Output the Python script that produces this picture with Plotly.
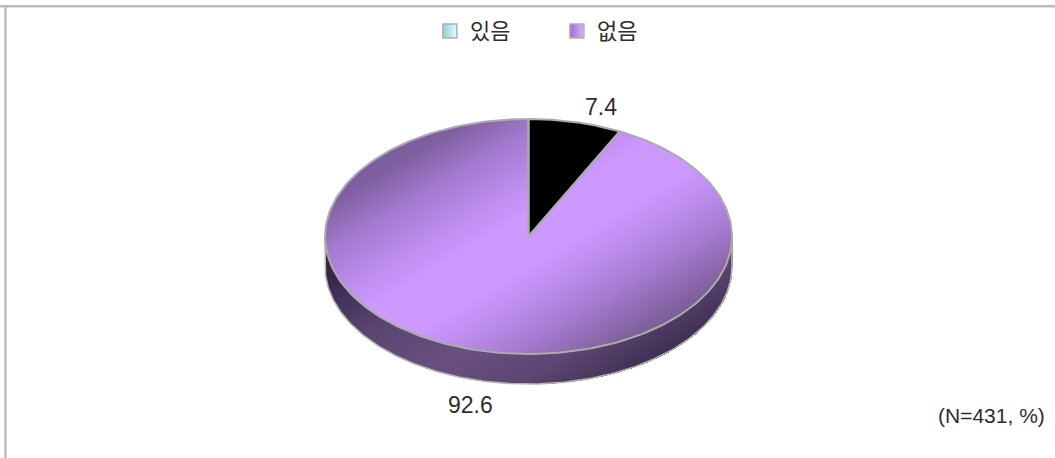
import numpy as np
import plotly.graph_objects as go

# ---- data ----
categories = ["있음", "없음"]
values = [7.4, 92.6]
note_text = "(N=431, %)"

# ---- geometry / style ----
W, H = 1055, 458
CX, CY, RX, RY, DEPTH = 528.5, 236.5, 203.5, 117.5, 30
RIM = "#ababab"
TEXT = "#2e2e2e"
FONT = "Liberation Sans, Arial, sans-serif"
FONT_KR = "Noto Sans CJK KR, sans-serif"
slice_fill = ["#000000", None]
swatch_colors = [("#8fd0d4", "#e8fbfb"), ("#9a6ed0", "#d8b4ff")]
top_stops = [(-175, "#725497"), (-130, "#80609f"), (-90, "#a47ad0"), (-45, "#c08ff0"), (-20, "#cc99ff"),
             (25, "#cc99ff"), (55, "#bc8cec"), (90, "#a67bd0"), (135, "#81619f"), (175, "#6f5290")]
wall_stops = [(-100, "#2b1f3a"), (-80, "#2f2340"), (-36, "#46355f"), (0, "#5a4570"),
              (65, "#6a5080"), (122, "#5c4672"), (170, "#3f2f52"), (200, "#3a2b4c")]


def scale(stops):
    lo, hi = stops[0][0], stops[-1][0]
    return [[(v - lo) / (hi - lo), c] for v, c in stops], lo, hi


def shade_axis(x, y):
    return 0.51 * (x - CX) + 0.86 * (y - CY)


# share of each slice -> clockwise angle from 12 o'clock
total = sum(values)
edges = np.cumsum([0] + values) / total * 2 * np.pi

xs = np.arange(int(CX - RX) - 1, int(CX + RX) + 3) + 0.0
ys = np.arange(int(CY - RY) - 1, int(CY + RY + DEPTH) + 3) + 0.0
X, Y = np.meshgrid(xs, ys)
nx, ny = (X - CX) / RX, (Y - CY) / RY
inside = nx ** 2 + ny ** 2 <= 1
ang = np.mod(np.arctan2(nx, -ny), 2 * np.pi)

fig = go.Figure()

# side wall
lower = CY + RY * np.sqrt(np.clip(1 - nx ** 2, 0, 1))
wall = (np.abs(nx) <= 1) & (Y >= CY) & (Y <= lower + DEPTH)
cs, lo, hi = scale(wall_stops)
fig.add_trace(go.Heatmap(x=xs, y=ys, z=np.where(wall, shade_axis(X, Y), np.nan), colorscale=cs,
                         zmin=lo, zmax=hi, showscale=False, hoverinfo="skip"))

# top face of the shaded slice
mask = inside & (ang >= edges[1]) & (ang <= edges[2])
cs, lo, hi = scale(top_stops)
fig.add_trace(go.Heatmap(x=xs, y=ys, z=np.where(mask, shade_axis(X, Y), np.nan), colorscale=cs,
                         zmin=lo, zmax=hi, showscale=False, hoverinfo="skip"))

# wall outline
t = np.linspace(-np.pi / 2, np.pi / 2, 181)
fig.add_trace(go.Scatter(
    x=np.r_[CX - RX, CX + RX * np.sin(t), CX + RX],
    y=np.r_[CY, CY + DEPTH + RY * np.cos(t), CY],
    mode="lines", line=dict(color="#b4b4b4", width=1.6), hoverinfo="skip", showlegend=False))

# slices
for i, name in enumerate(categories):
    a = np.linspace(edges[i], edges[i + 1], 240)
    px = np.r_[CX, CX + RX * np.sin(a), CX]
    py = np.r_[CY, CY - RY * np.cos(a), CY]
    fig.add_trace(go.Scatter(
        x=px, y=py, mode="lines", line=dict(color=RIM, width=2),
        fill="toself" if slice_fill[i] else None, fillcolor=slice_fill[i],
        hoverinfo="skip", showlegend=False))

# legend entries
for name, (c0, c1) in zip(categories, swatch_colors):
    fig.add_trace(go.Scatter(
        x=[None], y=[None], name=name, mode="markers",
        marker=dict(symbol="square", size=14, color=c0, line=dict(color="#b0b0b0", width=1.5),
                    gradient=dict(type="horizontal", color=c1))))

# value labels
label_font = dict(size=23, color=TEXT, family=FONT)
fig.add_annotation(x=601, y=107, text=str(values[0]), showarrow=False, font=label_font)
fig.add_annotation(x=470, y=405, text=str(values[1]), showarrow=False, font=label_font)
fig.add_annotation(x=991, y=415, text=note_text, showarrow=False, font=dict(size=21, color=TEXT, family=FONT))

# frame lines
fig.add_shape(type="line", x0=0, x1=W, y0=6.2, y1=6.2, line=dict(color="#bdbdbd", width=2.5), layer="below")
fig.add_shape(type="line", x0=5.5, x1=5.5, y0=5, y1=H, line=dict(color="#bdbdbd", width=2.5), layer="below")

fig.update_layout(
    width=W, height=H, margin=dict(l=0, r=0, t=0, b=0),
    paper_bgcolor="white", plot_bgcolor="white",
    xaxis=dict(range=[0, W], visible=False, fixedrange=True),
    yaxis=dict(range=[H, 0], visible=False, fixedrange=True),
    legend=dict(orientation="h", x=0.4075, y=0.978, xanchor="left", yanchor="top",
                entrywidth=82, entrywidthmode="pixels", bgcolor="rgba(0,0,0,0)",
                font=dict(size=22, color=TEXT, family=FONT_KR), itemclick=False, itemdoubleclick=False),
)

fig.write_html("out.html", config={"displayModeBar": False},
               post_script="document.body.style.margin='0';document.body.style.overflow='hidden';")
